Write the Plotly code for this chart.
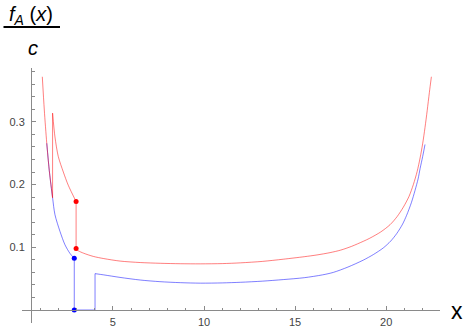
import plotly.graph_objects as go

# ---- data ----
red_left_x = [1.125, 1.235, 1.37, 1.51, 1.69]
red_left_y = [0.372, 0.319, 0.266, 0.222, 0.179]

red_spike_x = [1.69, 1.82, 2.0, 2.28, 2.55, 2.98]
red_spike_y = [0.314, 0.276, 0.245, 0.220, 0.199, 0.173]

red_main_x = [2.98, 3.1, 3.4, 3.92, 4.5, 5.4, 6.5, 7.6, 8.7, 9.8, 11.0, 12.0, 13.2,
              14.35, 15.5, 16.2, 16.92, 17.5, 18.1, 18.74, 19.1, 19.7, 20.21, 20.6,
              20.94, 21.25, 21.49, 21.7, 21.86, 22.0, 22.13, 22.25, 22.37, 22.48]
red_main_y = [0.098, 0.0945, 0.0905, 0.0855, 0.082, 0.078, 0.0757, 0.0745, 0.0738,
              0.0736, 0.0740, 0.0752, 0.0775, 0.0810, 0.0850, 0.0878, 0.0915, 0.0955,
              0.1015, 0.1095, 0.1145, 0.1245, 0.136, 0.149, 0.164, 0.181, 0.200, 0.221,
              0.2425, 0.265, 0.291, 0.318, 0.347, 0.372]

blue_left_x = [1.37, 1.51, 1.69, 1.82, 2.10, 2.37, 2.65, 2.88]
blue_left_y = [0.266, 0.222, 0.179, 0.152, 0.125, 0.104, 0.090, 0.0824]

blue_zero_x = [2.88, 4.02]
blue_zero_y = [0.0, 0.0]

blue_main_x = [4.02, 4.5, 5.39, 6.5, 7.58, 8.7, 9.8, 11.0, 12.0, 13.2, 14.35, 15.5,
               16.5, 17.1, 17.9, 18.74, 19.3, 19.84, 20.25, 20.58, 20.9, 21.12, 21.38,
               21.58, 21.75, 21.86, 22.0, 22.13]
blue_main_y = [0.058, 0.056, 0.052, 0.0478, 0.0452, 0.0436, 0.0428, 0.0432, 0.0442,
               0.0460, 0.0485, 0.0515, 0.0560, 0.0600, 0.0685, 0.0795, 0.0885, 0.0990,
               0.110, 0.122, 0.137, 0.151, 0.171, 0.1905, 0.209, 0.2255, 0.2445, 0.264]

red_dot_x = [2.98, 2.98]
red_dot_y = [0.173, 0.098]
blue_dot_x = [2.88, 2.88]
blue_dot_y = [0.0824, 0.0]

x_ticks = [5, 10, 15, 20]
y_ticks = [0.1, 0.2, 0.3]
y_tick_text = ["0.1", "0.2", "0.3"]

# ---- styling ----
W, H = 463, 330
L, R, T, B = 22, 440, 68, 323
RED = "rgba(255,0,0,0.5)"
BLUE = "rgba(0,0,255,0.5)"
AXC = "#8a8a8a"
FONT = "Liberation Sans"


def px(xp):
    return (xp - L) / (R - L)


def py(yp):
    return (B - yp) / (B - T)


fig = go.Figure()


def seg(xs, ys, color, spline=True):
    fig.add_trace(go.Scatter(
        x=xs, y=ys, mode="lines",
        line=dict(color=color, width=1, shape="spline" if spline else "linear",
                  smoothing=0.8),
        hoverinfo="skip", showlegend=False))


# blue first, red drawn on top
seg(blue_left_x, blue_left_y, BLUE)
seg([blue_left_x[-1], blue_zero_x[0]], [blue_left_y[-1], blue_zero_y[0]], BLUE, False)
seg(blue_zero_x, blue_zero_y, BLUE, False)
seg([blue_zero_x[-1], blue_main_x[0]], [blue_zero_y[-1], blue_main_y[0]], BLUE, False)
seg(blue_main_x, blue_main_y, BLUE)

seg(red_left_x, red_left_y, RED)
seg([red_left_x[-1], red_spike_x[0]], [red_left_y[-1], red_spike_y[0]], RED, False)
seg(red_spike_x, red_spike_y, RED)
seg([red_spike_x[-1], red_main_x[0]], [red_spike_y[-1], red_main_y[0]], RED, False)
seg(red_main_x, red_main_y, RED)

fig.add_trace(go.Scatter(x=red_dot_x, y=red_dot_y, mode="markers",
                         marker=dict(color="red", size=5), cliponaxis=False,
                         hoverinfo="skip", showlegend=False))
fig.add_trace(go.Scatter(x=blue_dot_x, y=blue_dot_y, mode="markers",
                         marker=dict(color="blue", size=5), cliponaxis=False,
                         hoverinfo="skip", showlegend=False))

x0 = 0.011
xr = [x0, x0 + (R - L) / 18.22]
yr = [-(B - 310) / 627.0, (310 - T) / 627.0]

fig.update_layout(
    width=W, height=H,
    margin=dict(l=L, r=W - R, t=T, b=H - B, pad=0),
    paper_bgcolor="white", plot_bgcolor="white",
    font=dict(family=FONT, size=11, color="#444"),
    xaxis=dict(range=xr, anchor="free", position=py(310), showline=True,
               linecolor=AXC, linewidth=1, showgrid=False, zeroline=False,
               ticks="inside", ticklen=4, tickcolor=AXC, tickwidth=1,
               tickmode="array", tickvals=x_ticks, ticklabelstandoff=2,
               tickfont=dict(family=FONT, size=11, color="#444"),
               minor=dict(tickmode="linear", tick0=0, dtick=1, ticks="inside",
                          ticklen=2.5, tickcolor=AXC, showgrid=False),
               automargin=False, fixedrange=True),
    yaxis=dict(range=yr, anchor="free", position=px(31), showline=True,
               linecolor=AXC, linewidth=1, showgrid=False, zeroline=False,
               ticks="inside", ticklen=4, tickcolor=AXC, tickwidth=1,
               tickmode="array", tickvals=y_ticks, ticktext=y_tick_text,
               ticklabelstandoff=4,
               tickfont=dict(family=FONT, size=11, color="#444"),
               minor=dict(tickmode="linear", tick0=0, dtick=0.02, ticks="inside",
                          ticklen=2.5, tickcolor=AXC, showgrid=False),
               automargin=False, fixedrange=True),
    annotations=[
        dict(text="<i>f</i><sub><i>A</i></sub> (<i>x</i>)", x=px(31), y=py(15),
             xref="paper", yref="paper", xanchor="center", yanchor="middle",
             showarrow=False, font=dict(family=FONT, size=20, color="black")),
        dict(text="<i>c</i>", x=px(33), y=py(48), xref="paper", yref="paper",
             xanchor="center", yanchor="middle", showarrow=False,
             font=dict(family=FONT, size=20, color="black")),
        dict(text="x", x=px(457), y=py(311), xref="paper", yref="paper",
             xanchor="center", yanchor="middle", showarrow=False,
             font=dict(family=FONT, size=23, color="black")),
    ],
    shapes=[
        dict(type="line", xref="paper", yref="paper", x0=px(3.5), x1=px(60),
             y0=py(27), y1=py(27), line=dict(color="black", width=2)),
    ],
)

fig.write_html("out.html",
               config={"displayModeBar": False, "staticPlot": True},
               post_script="document.body.style.margin='0px';"
                           "document.body.style.overflow='hidden';")
